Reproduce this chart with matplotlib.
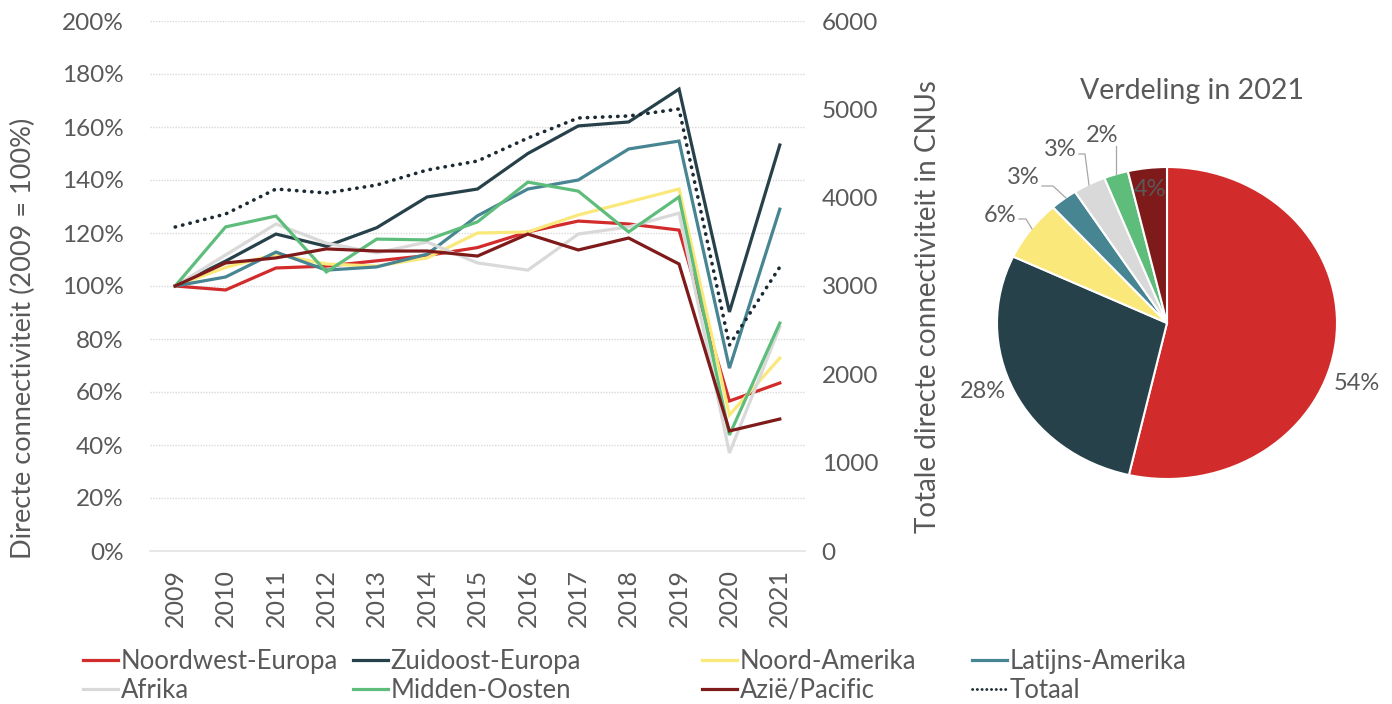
import matplotlib
matplotlib.use("Agg")
import matplotlib.pyplot as plt
import numpy as np
from matplotlib.lines import Line2D

plt.rcParams['font.family'] = ['Lato', 'DejaVu Sans']

# ---------------- data ----------------
years = [2009, 2010, 2011, 2012, 2013, 2014, 2015, 2016, 2017, 2018, 2019, 2020, 2021]
year_labels = [str(y) for y in years]

noordwest_europa = [100, 98.5, 106.8, 107.5, 109.5, 111.5, 114.5, 120.4, 124.5, 123.4, 121.1, 56.6, 63.4]
zuidoost_europa = [100, 109.4, 119.6, 115.0, 122.0, 133.6, 136.6, 150.0, 160.4, 161.9, 174.3, 90.2, 153.2]
noord_amerika = [100, 107.0, 112.0, 108.3, 107.5, 110.6, 120.0, 120.4, 126.8, 131.7, 136.6, 51.3, 72.8]
latijns_amerika = [100, 103.4, 112.8, 106.0, 107.2, 112.0, 126.5, 136.6, 140.0, 151.7, 154.7, 69.0, 129.0]
afrika = [100, 111.7, 123.4, 116.2, 112.5, 116.6, 108.7, 106.0, 119.6, 122.3, 127.5, 37.0, 84.5]
midden_oosten = [100, 122.3, 126.4, 105.3, 117.7, 117.4, 124.2, 139.2, 135.8, 120.4, 133.6, 43.8, 86.0]
azie_pacific = [100, 108.7, 110.6, 114.0, 113.2, 113.2, 111.3, 119.6, 113.6, 118.1, 108.3, 45.3, 49.8]
totaal = [3668, 3815, 4098, 4053, 4143, 4313, 4415, 4675, 4902, 4925, 5004, 2332, 3215]

series_names = ['Noordwest-Europa', 'Zuidoost-Europa', 'Noord-Amerika', 'Latijns-Amerika',
                'Afrika', 'Midden-Oosten', 'Azië/Pacific']
series_values = [noordwest_europa, zuidoost_europa, noord_amerika, latijns_amerika,
                 afrika, midden_oosten, azie_pacific]
series_colors = ['#D22B2B', '#27414B', '#FBE87A', '#478592', '#D9D9D9', '#5FBD7C', '#7F1A1A']
total_name = 'Totaal'
total_color = '#1B2A33'

pie_title = 'Verdeling in 2021'
pie_shares = [53.6, 28.4, 6.3, 2.6, 3.1, 2.3, 3.7]

left_ticks = [0, 20, 40, 60, 80, 100, 120, 140, 160, 180, 200]
right_ticks = [0, 1000, 2000, 3000, 4000, 5000, 6000]

TXT = '#595959'

# ---------------- figure ----------------
fig = plt.figure(figsize=(13.92, 7.04), dpi=100)
W, H = 1392, 704

def fx(px):
    return px / W

def fy(py):
    return 1 - py / H

AX_L, AX_R, AX_T, AX_B = 150, 805, 21, 551
ax = fig.add_axes([fx(AX_L), fy(AX_B), fx(AX_R) - fx(AX_L), fy(AX_T) - fy(AX_B)])
x = np.arange(len(years))

for name, vals, col in zip(series_names, series_values, series_colors):
    ax.plot(x, vals, color=col, lw=2.3, label=name, solid_joinstyle='miter', zorder=3)

ax.set_xlim(-0.5, len(years) - 0.5)
ax.set_ylim(0, 200)
ax.set_yticks(left_ticks)
ax.set_yticklabels([f'{t}%' for t in left_ticks])
ax.set_xticks(x)
ax.set_xticklabels(year_labels, rotation=90)
ax.grid(axis='y', color='#D9D9D9', lw=1.0, linestyle=(0, (1, 1)), zorder=0)
ax.set_axisbelow(True)
for s in ['top', 'right', 'left']:
    ax.spines[s].set_visible(False)
ax.spines['bottom'].set_color('#E3E3E3')
ax.spines['bottom'].set_linewidth(1.2)
ax.tick_params(axis='y', length=0, pad=19, labelsize=17.5, labelcolor=TXT)
ax.tick_params(axis='x', length=0, pad=13, labelsize=18, labelcolor=TXT)
ax.set_ylabel('Directe connectiviteit (2009 = 100%)', fontsize=19.5, color=TXT)
ax.yaxis.set_label_coords((36 - AX_L) / (AX_R - AX_L), (AX_B - 338) / (AX_B - AX_T))

ax2 = ax.twinx()
ax2.plot(x, totaal, color=total_color, lw=2.6, linestyle=(0, (0.1, 2.0)),
         dash_capstyle='round', label=total_name, zorder=4)
ax2.set_ylim(0, 6000)
ax2.set_yticks(right_ticks)
ax2.set_yticklabels([str(t) for t in right_ticks])
for s in ['top', 'right', 'left', 'bottom']:
    ax2.spines[s].set_visible(False)
ax2.tick_params(axis='y', length=0, pad=12, labelsize=17.5, labelcolor=TXT)
ax2.set_ylabel('Totale directe connectiviteit in CNUs', fontsize=20, color=TXT)
ax2.yaxis.set_label_coords((915 - AX_L) / (AX_R - AX_L), (AX_B - 307) / (AX_B - AX_T))

# ---------------- legend (4 columns, 2 rows) ----------------
handles = [Line2D([0], [0], color=c, lw=2.3) for c in series_colors]
handles.append(Line2D([0], [0], color=total_color, lw=2.0, linestyle=(0, (0.1, 1.6)),
                      dash_capstyle='round'))
labels = series_names + [total_name]
col_x = [83, 353, 702, 972]
order = [[0, 4], [1, 5], [2, 6], [3, 7]]
for cx, idx in zip(col_x, order):
    leg = fig.legend([handles[i] for i in idx], [labels[i] for i in idx],
                     loc='center left', bbox_to_anchor=(fx(cx), fy(676)),
                     frameon=False, fontsize=18.5, handlelength=1.35, handletextpad=0.12,
                     labelspacing=0.15, borderpad=0, borderaxespad=0)
    for t in leg.get_texts():
        t.set_color(TXT)

# ---------------- pie ----------------
pax = fig.add_axes([fx(997), fy(479), fx(1337) - fx(997), fy(167) - fy(479)])
wedges, _ = pax.pie(pie_shares, colors=series_colors, startangle=90, counterclock=False,
                    wedgeprops=dict(edgecolor='white', linewidth=1.5))
pax.set_aspect('auto')
pax.set_xlim(-1, 1)
pax.set_ylim(-1, 1)
pax.axis('off')

total_share = sum(pie_shares)
pct_labels = [f'{round(v / total_share * 100):d}%' for v in pie_shares]

def ex(px):
    return (px - 1167) / 170.0

def ey(py):
    return (323 - py) / 156.0

# label positions (pixel centres) and optional leader-line points
label_px = [(1357, 384), (983, 392), (1000, 215), (1023, 178), (1060, 150), (1102, 135), (1150, 190)]
leaders = [None, None,
           [(1019, 219), (1026, 219), (1032, 229)],
           [(1042, 186), (1053, 186), (1066, 198)],
           [(1079, 154), (1085, 154), (1089, 185)],
           [(1116, 146), (1116, 174)],
           None]
for lab, (px, py), ld in zip(pct_labels, label_px, leaders):
    pax.text(ex(px), ey(py), lab, ha='center', va='center', fontsize=17, color=TXT,
             clip_on=False)
    if ld:
        pax.plot([ex(p[0]) for p in ld], [ey(p[1]) for p in ld], color='#A6A6A6', lw=0.9,
                 clip_on=False)

fig.text(fx(1192), fy(91), pie_title, ha='center', va='center', fontsize=20.5, color=TXT)

fig.savefig('out.png', dpi=100)
